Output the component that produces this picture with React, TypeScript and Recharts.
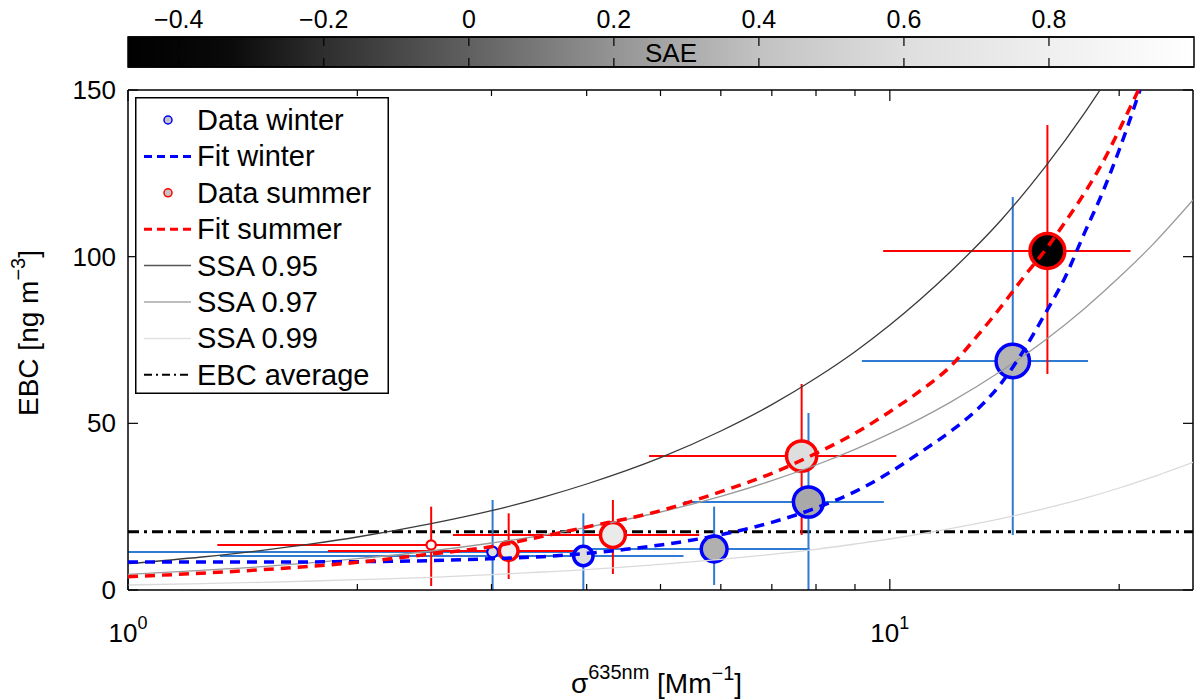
import React from 'react';
import {
  ComposedChart,
  Scatter,
  XAxis,
  YAxis,
  ErrorBar,
  ReferenceLine,
  ReferenceArea,
  Legend,
  Label,
} from 'recharts';

const FONT = '"Liberation Sans", Arial, Helvetica, sans-serif';

// SAE colour bar
const saeDomain = [-0.47, 1.0];
const saeTicks = [-0.4, -0.2, 0, 0.2, 0.4, 0.6, 0.8];
const saeStops = [-0.47, -0.33, -0.2, 0, 0.2, 0.4, 0.6, 0.8, 1.0];
const saeGrays = [0, 10, 46, 96, 148, 194, 222, 239, 255];

// winter data (sigma in Mm-1, EBC in ng m-3), error ranges as far as visible
const winterSigma = [3.01, 3.96, 5.88, 7.82, 14.5];
const winterSigmaLo = [1.0, 1.32, 3.98, 5.37, 9.19];
const winterSigmaHi = [3.9, 5.36, 7.85, 9.82, 18.2];
const winterEbc = [11.4, 10.2, 12.3, 26.4, 68.7];
const winterEbcLo = [0, 0, 1.5, 0, 16.5];
const winterEbcHi = [27, 23, 25, 53.1, 117.9];
const winterSae = [0.6, 0.59, 0.32, 0.29, 0.34];
const winterN = [29, 94, 166, 228, 279];

// summer data
const summerSigma = [2.5, 3.16, 4.33, 7.66, 16.1];
const summerSigmaLo = [1.31, 1.83, 2.67, 4.83, 9.8];
const summerSigmaHi = [2.73, 3.87, 5.62, 10.2, 20.7];
const summerEbc = [13.5, 11.7, 16.5, 40.2, 101.7];
const summerEbcLo = [1.2, 3.3, 4.8, 16.5, 64.8];
const summerEbcHi = [25, 23, 27, 61.8, 139.5];
const summerSae = [0.95, 0.8, 0.74, 0.6, -0.47];
const summerN = [22, 88, 154, 228, 303];

// fits
const winterFitSigma = [1, 1.5, 2, 2.5, 3, 3.5, 4, 4.5, 5, 6, 7, 8, 9, 10, 11, 12, 13, 14, 15, 16, 17, 18, 19, 20, 21.3];
const winterFitEbc = [8.4, 8.4, 8.5, 8.8, 9.4, 10.0, 11.0, 12.2, 13.5, 16.6, 20.3, 24.6, 29.5, 35.3, 41.5, 47.5, 54, 62, 72, 83, 94, 107, 119, 132, 150];
const summerFitSigma = [1, 1.5, 2, 2.5, 3, 3.5, 4, 5, 6, 7, 8, 9, 10, 11, 12, 13, 14, 15, 16, 17, 18, 19, 20, 21.2];
const summerFitEbc = [4.0, 6.1, 8.3, 10.8, 13.0, 16.1, 18.9, 23.8, 29.5, 35, 41, 47, 53.5, 60, 67, 76, 85, 94, 102, 110.5, 119, 128, 138, 150];

// SSA reference curves
const ssaSigma = [1, 1.25, 1.5, 1.75, 2, 2.5, 3, 3.5, 4, 5, 6, 7, 8, 9, 10, 12, 14, 16, 18, 20, 22, 25];
const ssa95 = [7.9, 9.9, 11.9, 13.9, 15.9, 19.9, 23.8, 27.8, 31.8, 39.7, 47.7, 55.6, 63.6, 71.5, 79.5, 95.4, 111, 127, 143, 159, 175, 199];
const ssa97 = [4.7, 5.9, 7.0, 8.2, 9.4, 11.7, 14.1, 16.4, 18.8, 23.4, 28.1, 32.8, 37.5, 42.2, 46.9, 56.3, 65.7, 75.0, 84.4, 93.8, 103, 117];
const ssa99 = [1.5, 1.9, 2.3, 2.7, 3.1, 3.8, 4.6, 5.4, 6.1, 7.7, 9.2, 10.7, 12.2, 13.8, 15.3, 18.4, 21.4, 24.5, 27.5, 30.6, 33.7, 38.3];

const ebcAverage = 17.5;

const xTicks = [1, 2, 3, 4, 5, 6, 7, 8, 9, 10, 20];
const yTicks = [0, 50, 100, 150];

const legendLabels = ['Data winter', 'Fit winter', 'Data summer', 'Fit summer', 'SSA 0.95', 'SSA 0.97', 'SSA 0.99', 'EBC average'];

const gray = (g: number) => {
  const h = Math.round(g);
  return `rgb(${h},${h},${h})`;
};

function saeColor(v: number) {
  if (v <= saeStops[0]) return gray(saeGrays[0]);
  for (let i = 1; i < saeStops.length; i++) {
    if (v <= saeStops[i]) {
      const t = (v - saeStops[i - 1]) / (saeStops[i] - saeStops[i - 1]);
      return gray(saeGrays[i - 1] + t * (saeGrays[i] - saeGrays[i - 1]));
    }
  }
  return gray(255);
}

const toPoints = (
  sig: number[], lo: number[], hi: number[],
  ebc: number[], eLo: number[], eHi: number[],
  sae: number[], n: number[],
) =>
  sig.map((s, i) => ({
    s,
    e: ebc[i],
    xErr: [s - lo[i], hi[i] - s],
    yErr: [ebc[i] - eLo[i], eHi[i] - ebc[i]],
    sae: sae[i],
    n: n[i],
  }));

const toLine = (xs: number[], ys: number[]) => xs.map((s, i) => ({ s, e: ys[i] }));

const winterData = toPoints(winterSigma, winterSigmaLo, winterSigmaHi, winterEbc, winterEbcLo, winterEbcHi, winterSae, winterN);
const summerData = toPoints(summerSigma, summerSigmaLo, summerSigmaHi, summerEbc, summerEbcLo, summerEbcHi, summerSae, summerN);

const BLUE = '#0000ff';
const RED = '#ff0000';
const BAR_BLUE = '#2f7bd3';
const axisStyle = { stroke: '#000', strokeWidth: 1.5 };

const bubble = (edge: string) => (props: any) => {
  const { cx, cy, payload } = props;
  const r = Math.sqrt(payload.n);
  return <circle cx={cx} cy={cy} r={r} fill={saeColor(payload.sae)} stroke={edge} strokeWidth={r < 7 ? 2.2 : 3.5} />;
};

const noShape = () => <g />;

// curves are drawn as point-less scatter lines so that draw order follows the children
const curve = (stroke: string, strokeWidth: number, strokeDasharray?: string) => ({
  stroke,
  strokeWidth,
  strokeDasharray,
  fill: 'none',
});

const BottomTick = (props: any) => {
  const { x, y, payload } = props;
  const v = payload.value;
  const major = v === 1 || v === 10;
  return (
    <g>
      <line x1={x} y1={y} x2={x} y2={y - (major ? 11 : 6)} stroke="#000" strokeWidth={1.2} />
      {major && (
        <text x={x} y={y + 52} textAnchor="middle" fontSize={26} fill="#000">
          10
          <tspan dy={-13} fontSize={18}>{Math.round(Math.log10(v))}</tspan>
        </text>
      )}
    </g>
  );
};

const TopTick = (props: any) => {
  const { x, y, payload } = props;
  const major = payload.value === 1 || payload.value === 10;
  return <line x1={x} y1={y} x2={x} y2={y + (major ? 11 : 6)} stroke="#000" strokeWidth={1.2} />;
};

const LeftTick = (props: any) => {
  const { x, y, payload } = props;
  return (
    <g>
      <line x1={x} y1={y} x2={x + 10} y2={y} stroke="#000" strokeWidth={1.2} />
      <text x={x - 12} y={y + 9} textAnchor="end" fontSize={26} fill="#000">
        {payload.value}
      </text>
    </g>
  );
};

const RightTick = (props: any) => {
  const { x, y } = props;
  return <line x1={x} y1={y} x2={x - 10} y2={y} stroke="#000" strokeWidth={1.2} />;
};

const XTitle = (props: any) => {
  const vb = props.viewBox;
  return (
    <text x={vb.x + vb.width / 2 - 4} y={vb.y + 103} textAnchor="middle" fontSize={28} fill="#000">
      σ
      <tspan dy={-14} fontSize={20}>635nm</tspan>
      <tspan dy={14}> [Mm</tspan>
      <tspan dy={-13} fontSize={20}>−1</tspan>
      <tspan dy={13}>]</tspan>
    </text>
  );
};

const YTitle = (props: any) => {
  const vb = props.viewBox;
  const cx = vb.x - 30;
  const cy = vb.y + vb.height / 2 - 7;
  return (
    <text x={cx} y={cy} transform={`rotate(-90 ${cx} ${cy})`} textAnchor="middle" fontSize={28} fill="#000">
      EBC [ng m
      <tspan dy={-13} fontSize={20}>−3</tspan>
      <tspan dy={13}>]</tspan>
    </text>
  );
};

const legendSamples = [
  { kind: 'dot', color: BLUE },
  { kind: 'line', color: BLUE, dash: '8 5', width: 3 },
  { kind: 'dot', color: RED },
  { kind: 'line', color: RED, dash: '8 5', width: 3 },
  { kind: 'line', color: '#555555', dash: undefined, width: 1.5 },
  { kind: 'line', color: '#a8a8a8', dash: undefined, width: 1.5 },
  { kind: 'line', color: '#e2e2e2', dash: undefined, width: 1.5 },
  { kind: 'line', color: '#000000', dash: '8 4 2 4', width: 2 },
];

const LegendBox = () => (
  <svg width={254} height={297} style={{ display: 'block', fontFamily: FONT }}>
    <rect x={0.75} y={0.75} width={252.5} height={295.5} fill="#fff" stroke="#000" strokeWidth={1.5} />
    {legendLabels.map((label, i) => {
      const cy = 23 + i * 36.4;
      const s = legendSamples[i];
      return (
        <g key={label}>
          {s.kind === 'dot' ? (
            <circle cx={33} cy={cy} r={4} fill="#c4c4c4" stroke={s.color} strokeWidth={1.5} />
          ) : (
            <line x1={9} y1={cy} x2={56} y2={cy} stroke={s.color} strokeWidth={s.width} strokeDasharray={s.dash} />
          )}
          <text x={62} y={cy + 10} fontSize={29} fill="#000">
            {label}
          </text>
        </g>
      );
    })}
  </svg>
);

const saeLabel = (v: number) => (v === 0 ? '0' : (v < 0 ? '\u2212' : '') + Math.abs(v).toFixed(1));

const SaeTopTick = (props: any) => {
  const { x, y, payload } = props;
  return (
    <g>
      <line x1={x} y1={y} x2={x} y2={y + 9} stroke="#000" strokeWidth={1.2} />
      <text x={x} y={y - 9} textAnchor="middle" fontSize={25} fill="#000">
        {saeLabel(payload.value)}
      </text>
    </g>
  );
};

const SaeBottomTick = (props: any) => {
  const { x, y } = props;
  return <line x1={x} y1={y} x2={x} y2={y - 9} stroke="#000" strokeWidth={1.2} />;
};

const saeMarks = saeTicks.map((v) => ({ v, y: 0.5 }));

function ColorBar() {
  const span = saeDomain[1] - saeDomain[0];
  return (
    <ComposedChart width={1200} height={80} margin={{ top: 36, right: 6, bottom: 12, left: 128 }} data={saeMarks}>
      <defs>
        <linearGradient id="saeGrad" x1="0" y1="0" x2="1" y2="0">
          {saeStops.map((v, i) => (
            <stop key={v} offset={(v - saeDomain[0]) / span} stopColor={gray(saeGrays[i])} />
          ))}
        </linearGradient>
      </defs>
      <XAxis
        xAxisId="top"
        orientation="top"
        dataKey="v"
        type="number"
        domain={saeDomain}
        ticks={saeTicks}
        interval={0}
        tickSize={0}
        tickMargin={0}
        tickLine={false}
        tick={<SaeTopTick />}
        axisLine={axisStyle}
        height={1}
      />
      <XAxis
        xAxisId="bottom"
        orientation="bottom"
        dataKey="v"
        type="number"
        domain={saeDomain}
        ticks={saeTicks}
        interval={0}
        tickSize={0}
        tickMargin={0}
        tickLine={false}
        tick={<SaeBottomTick />}
        axisLine={axisStyle}
        height={1}
      />
      <YAxis yAxisId="cb" type="number" domain={[0, 1]} hide />
      <ReferenceArea
        xAxisId="top"
        yAxisId="cb"
        x1={saeDomain[0]}
        x2={saeDomain[1]}
        y1={0}
        y2={1}
        fill="url(#saeGrad)"
        fillOpacity={1}
        stroke="#000"
        strokeWidth={1.5}
        label={{ value: 'SAE', position: 'center', fontSize: 26, fill: '#000', dx: 10, dy: 1 }}
      />
      <Scatter xAxisId="top" yAxisId="cb" dataKey="y" shape={noShape} isAnimationActive={false} />
    </ComposedChart>
  );
}

function MainChart() {
  return (
    <ComposedChart width={1200} height={700} margin={{ top: 89, right: 6, bottom: 50, left: 68 }}>
      <XAxis
        dataKey="s"
        type="number"
        scale="log"
        domain={[1, 25]}
        allowDataOverflow
        ticks={xTicks}
        interval={0}
        tickSize={0}
        tickMargin={0}
        tickLine={false}
        tick={<BottomTick />}
        axisLine={axisStyle}
        height={60}
      >
        <Label content={XTitle} />
      </XAxis>
      <XAxis
        xAxisId="top"
        orientation="top"
        dataKey="s"
        type="number"
        scale="log"
        domain={[1, 25]}
        allowDataOverflow
        ticks={xTicks}
        interval={0}
        tickSize={0}
        tickMargin={0}
        tickLine={false}
        tick={<TopTick />}
        axisLine={axisStyle}
        height={1}
      />
      <YAxis
        dataKey="e"
        type="number"
        domain={[0, 150]}
        allowDataOverflow
        ticks={yTicks}
        interval={0}
        tickSize={0}
        tickMargin={0}
        tickLine={false}
        tick={<LeftTick />}
        axisLine={axisStyle}
        width={60}
      >
        <Label content={YTitle} />
      </YAxis>
      <YAxis
        yAxisId="right"
        orientation="right"
        type="number"
        domain={[0, 150]}
        allowDataOverflow
        ticks={yTicks}
        interval={0}
        tickSize={0}
        tickMargin={0}
        tickLine={false}
        tick={<RightTick />}
        axisLine={axisStyle}
        width={1}
      />

      <Scatter data={winterData} dataKey="e" shape={bubble(BLUE)} isAnimationActive={false} />
      <Scatter data={summerData} dataKey="e" shape={bubble(RED)} isAnimationActive={false} />

      <Scatter data={toLine(ssaSigma, ssa95)} dataKey="e" shape={noShape} line={curve('#3a3a3a', 1.3)} lineJointType="monotoneX" isAnimationActive={false} />
      <Scatter data={toLine(ssaSigma, ssa97)} dataKey="e" shape={noShape} line={curve('#9a9a9a', 1.3)} lineJointType="monotoneX" isAnimationActive={false} />
      <Scatter data={toLine(ssaSigma, ssa99)} dataKey="e" shape={noShape} line={curve('#dadada', 1.3)} lineJointType="monotoneX" isAnimationActive={false} />
      <Scatter data={toLine(winterFitSigma, winterFitEbc)} dataKey="e" shape={noShape} line={curve(BLUE, 3.5, '10 7')} lineJointType="monotoneX" isAnimationActive={false} />
      <Scatter data={toLine(summerFitSigma, summerFitEbc)} dataKey="e" shape={noShape} line={curve(RED, 3.5, '10 7')} lineJointType="monotoneX" isAnimationActive={false} />

      <ReferenceLine y={ebcAverage} stroke="#000" strokeWidth={3} strokeDasharray="11 5 3 5" />

      <Scatter data={winterData} dataKey="e" shape={noShape} isAnimationActive={false}>
        <ErrorBar dataKey="xErr" direction="x" width={0} stroke={BAR_BLUE} strokeWidth={2} />
        <ErrorBar dataKey="yErr" direction="y" width={0} stroke={BAR_BLUE} strokeWidth={2} />
      </Scatter>
      <Scatter data={summerData} dataKey="e" shape={noShape} isAnimationActive={false}>
        <ErrorBar dataKey="xErr" direction="x" width={0} stroke={RED} strokeWidth={2} />
        <ErrorBar dataKey="yErr" direction="y" width={0} stroke={RED} strokeWidth={2} />
      </Scatter>

      <Legend
        layout="vertical"
        align="center"
        verticalAlign="middle"
        wrapperStyle={{ left: 135, top: 97, width: 254, height: 297 }}
        content={() => <LegendBox />}
      />
    </ComposedChart>
  );
}

export default function App() {
  return (
    <div style={{ position: 'absolute', left: 0, top: 0, width: 1200, height: 700, background: '#fff', fontFamily: FONT }}>
      <div style={{ position: 'absolute', left: 0, top: 0 }}>
        <MainChart />
      </div>
      <div style={{ position: 'absolute', left: 0, top: 0 }}>
        <ColorBar />
      </div>
    </div>
  );
}
